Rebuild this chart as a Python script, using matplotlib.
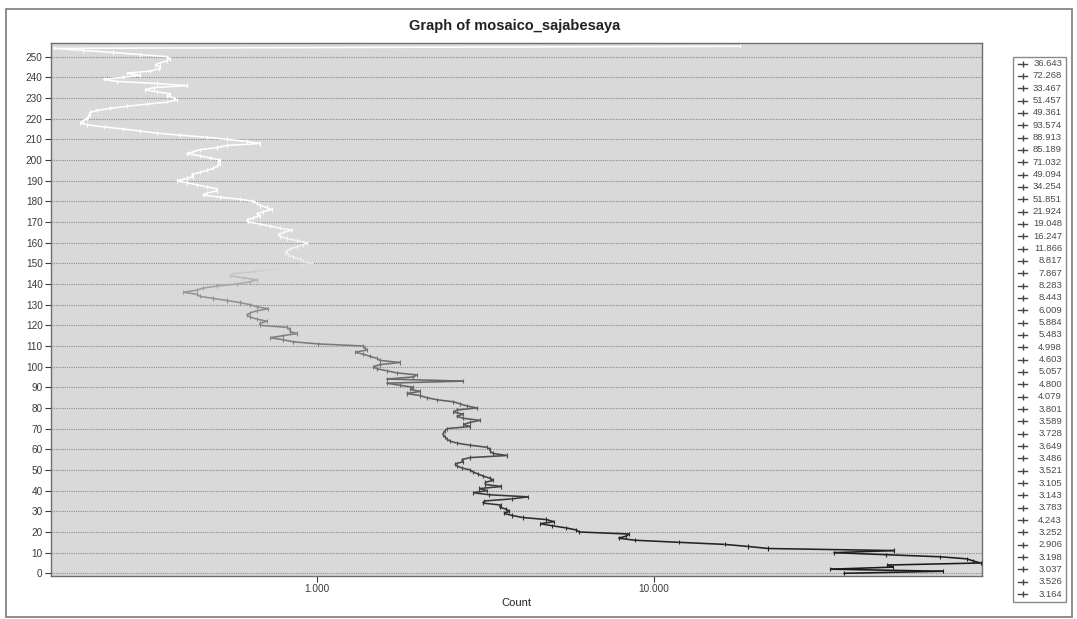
import numpy as np
import matplotlib
matplotlib.use("Agg")
import matplotlib.pyplot as plt
from matplotlib.collections import LineCollection
from matplotlib.lines import Line2D
from matplotlib.patches import Rectangle

plt.rcParams['font.family'] = ['Liberation Sans', 'DejaVu Sans']

# ---- data: pixel-value histogram (value 0..255 -> count) ----
counts = [
    36643, 72268, 33467, 51457, 49361, 93574, 88913, 85189, 71032, 49094,
    34254, 51851, 21924, 19048, 16247, 11866, 8817, 7867, 8283, 8443,
    6009, 5884, 5483, 4998, 4603, 5057, 4800, 4079, 3801, 3589,
    3728, 3649, 3486, 3521, 3105, 3143, 3783, 4243, 3252, 2906,
    3198, 3037, 3526, 3164,
    3155, 3340, 3265, 3119, 3013, 2913, 2847, 2690, 2599, 2570,
    2720, 2690, 2847, 3659, 3340, 3265, 3265, 3191, 2847, 2599,
    2483, 2427, 2400, 2373, 2373, 2400, 2427, 2847, 2720, 2847,
    3049, 2720, 2599, 2720, 2541, 2599, 2981, 2783, 2659, 2541,
    2267, 2117, 2022, 1846, 2022, 1889, 1932, 1764, 1610, 2720,
    1610, 1932, 1977, 1724, 1610, 1504, 1470, 1539, 1764, 1539,
    1504, 1437, 1373, 1297, 1404, 1388, 1373,
    1007, 850, 794, 725, 794, 870, 831, 831, 813, 677,
    677, 709, 662, 632, 618, 632, 662, 717, 662, 632,
    590, 539, 492, 449, 439, 401, 439, 459, 504, 577,
    632, 662, 604, 551, 564, 654, 725, 803, 890,
    964, 911, 890, 850, 822, 804, 813, 831, 870, 911,
    932, 870, 813, 777, 768, 794, 841, 777, 725, 677,
    625, 618, 647, 677, 662, 693, 734, 709, 677, 662,
    647, 590, 515, 459, 470, 504, 504, 470, 439, 410,
    383, 410, 429, 424, 449, 470, 492, 504, 515, 509,
    515, 480, 449, 410, 429,
    449, 504, 539, 677, 618, 539, 470, 392, 334, 298,
    266, 232, 207, 198, 202, 207, 209, 212, 212, 222,
    243, 272, 312, 358, 383, 375, 358, 366, 334, 308,
    327, 410, 334, 254, 232, 266, 298, 272, 319, 338,
    342, 330, 342, 358, 366, 358, 298, 248, 202, 165,
    18000,
]
values = list(range(len(counts)))
legend_counts = counts[:44]
y_ticks = list(range(0, 251, 10))
x_ticks = [1000, 10000]
x_tick_labels = ["1.000", "10.000"]
title = "Graph of mosaico_sajabesaya"
x_label = "Count"

W, H = 1077, 619
fig = plt.figure(figsize=(W / 100, H / 100), dpi=100)
fig.patch.set_facecolor("white")

# outer frame
fig.add_artist(Rectangle((6 / W, 1 - 617 / H), (1072 - 6) / W, (617 - 9) / H,
                         transform=fig.transFigure, fill=False,
                         edgecolor="#7a7a7a", lw=1.2))

ax = fig.add_axes([51 / W, 1 - 576 / H, (982 - 51) / W, (576 - 43) / H])
ax.set_facecolor("#d9d9d9")
ax.set_xscale("log")
ax.set_xlim(162, 94500)
ax.set_ylim(-1.3, 256.6)

# grey ramp: dark for low values, white for high values
def grey(v):
    g = np.interp(v, [0, 20, 50, 90, 120, 135, 142, 147, 152, 170, 255],
                  [0.10, 0.15, 0.27, 0.40, 0.52, 0.58, 0.70, 0.84, 0.93, 1.0, 1.0])
    return (g, g, g)

x = np.array(counts, dtype=float)
y = np.array(values, dtype=float)
pts = np.column_stack([x, y])
segs = np.stack([pts[:-1], pts[1:]], axis=1)
seg_cols = [grey(v) for v in y[:-1]]
lc = LineCollection(segs, colors=seg_cols, linewidths=1.15, zorder=3)
ax.add_collection(lc)
ax.scatter(x, y, marker="|", s=9, c=[grey(v) for v in y], linewidths=0.8, zorder=4)

ax.set_yticks(y_ticks)
ax.set_yticklabels([str(t) for t in y_ticks])
ax.set_xticks(x_ticks)
ax.set_xticklabels(x_tick_labels)
ax.xaxis.set_minor_locator(matplotlib.ticker.NullLocator())
ax.tick_params(axis="both", labelsize=7.2, colors="#3a3a3a", length=4, width=0.8, pad=2)
ax.grid(axis="y", color="#8c8c8c", linestyle=(0, (1, 1)), linewidth=0.8, zorder=1)
ax.grid(axis="x", visible=False)
for s in ax.spines.values():
    s.set_color("#6e6e6e")
    s.set_linewidth(1.0)

ax.set_xlabel(x_label, fontsize=8, color="#222222", labelpad=3)
fig.text(515 / W, 1 - 26 / H, title, ha="center", va="center",
         fontsize=10.5, fontweight="bold", color="#222222")

# legend (one entry per listed count)
lx0, lx1, ly0, ly1 = 1013, 1066, 57, 602
fig.add_artist(Rectangle((lx0 / W, 1 - ly1 / H), (lx1 - lx0) / W, (ly1 - ly0) / H,
                         transform=fig.transFigure, fill=True, facecolor="white",
                         edgecolor="#8a8a8a", lw=1.0))
for i, c in enumerate(legend_counts):
    yy = 1 - (63.5 + i * 12.34) / H
    fig.add_artist(Line2D([1018 / W, 1027 / W], [yy, yy], transform=fig.transFigure,
                          color="#444444", lw=1.0))
    fig.add_artist(Line2D([1022.5 / W], [yy], transform=fig.transFigure,
                          color="#444444", marker="|", markersize=4, lw=0))
    fig.text(1062 / W, yy, f"{c:,}".replace(",", "."), ha="right", va="center",
             fontsize=6.8, color="#4a4a4a")

fig.savefig("out.png", dpi=100)
